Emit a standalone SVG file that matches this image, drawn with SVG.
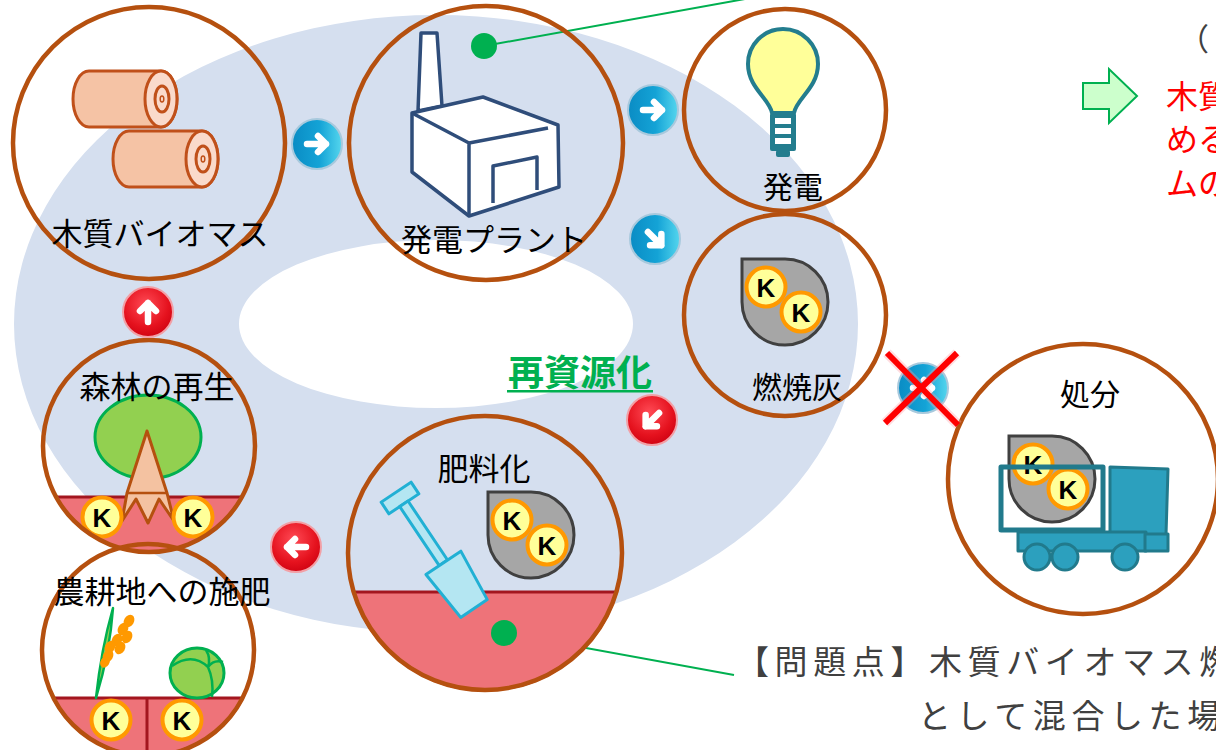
<svg xmlns="http://www.w3.org/2000/svg" width="1216" height="750" viewBox="0 0 1216 750">
  <style>
    .ring { stroke: #B5500F; stroke-width: 4.5; fill: none; }
    .lbl { font-family: "Noto Sans CJK JP", "Noto Sans", sans-serif; font-size: 31px; fill: #000; text-anchor: middle; }
    .lbl30 { font-size: 30px; }
    .k { font-family: "Liberation Sans", Arial, sans-serif; font-weight: bold; font-size: 26px; fill: #000; text-anchor: middle; }
    .ground { fill: #EE7379; stroke: #A3161F; stroke-width: 3; }
    .arw { fill: none; stroke: #FFFFFF; stroke-width: 6.5; stroke-linecap: round; stroke-linejoin: round; }
    .callout { stroke: #00B050; stroke-width: 2; fill: none; }
    .note { font-family: "Noto Sans CJK JP", "Noto Sans", sans-serif; fill: #404040; }
    .red { font-family: "Noto Sans CJK JP", "Noto Sans", sans-serif; font-size: 32px; fill: #FF0000; }
  </style>
  <defs>
    <linearGradient id="gBlue" x1="0" y1="0" x2="1" y2="0">
      <stop offset="0" stop-color="#0A8CC4"/>
      <stop offset="0.55" stop-color="#14A3D6"/>
      <stop offset="1" stop-color="#55D6EE"/>
    </linearGradient>
    <radialGradient id="gRed" cx="0.45" cy="0.35" r="0.7">
      <stop offset="0" stop-color="#FF4A55"/>
      <stop offset="0.65" stop-color="#E5121E"/>
      <stop offset="1" stop-color="#CC0010"/>
    </radialGradient>
    <g id="kBadge">
      <circle r="19.5" fill="#FFFF99" stroke="#FF9900" stroke-width="4"/>
      <text class="k" y="9.5">K</text>
    </g>
    <g id="ash">
      <path d="M0,0 H43 A43,43 0 0 1 43,86 A43,43 0 0 1 0,43 Z" fill="#A6A6A6" stroke="#404040" stroke-width="3"/>
      <use href="#kBadge" x="24" y="28"/>
      <use href="#kBadge" x="59" y="53"/>
    </g>
    <circle id="btnBlue" r="25" fill="url(#gBlue)" stroke="#A8C9DD" stroke-width="2"/>
    <circle id="btnRed" r="25" fill="url(#gRed)" stroke="#F2A0A6" stroke-width="2"/>
    <path id="arrowR" class="arw" d="M-10,0 H9 M1,-8 L9,0 L1,8"/>
  </defs>

  <!-- background loop (donut) -->
  <path d="M14,324 A422,309 0 1 0 858,324 A422,309 0 1 0 14,324 Z M239,324 A197,84 0 1 0 633,324 A197,84 0 1 0 239,324 Z"
        fill="#D5DFEF" fill-rule="evenodd"/>

  <!-- callout connectors -->
  <g id="connectors">
    <line class="callout" x1="484" y1="46" x2="756" y2="-3"/>
    <circle cx="484" cy="46" r="13" fill="#00B050"/>
    <line class="callout" x1="504" y1="633" x2="734" y2="675"/>
  </g>

  <!-- wood biomass -->
  <g id="node-biomass">
    <path d="M89,71 H161 A16,28 0 0 1 161,127 H89 A16,28 0 0 1 89,71 Z" fill="#F5C3A5" stroke="#C0501A" stroke-width="3"/>
    <ellipse cx="161" cy="99" rx="16" ry="28" fill="#FADACB" stroke="#C0501A" stroke-width="3"/>
    <ellipse cx="162" cy="99" rx="7" ry="13" fill="none" stroke="#C0501A" stroke-width="3"/>
    <ellipse cx="162" cy="99" rx="1.8" ry="3" fill="none" stroke="#C0501A" stroke-width="1.5"/>
    <path d="M129,131 H202 A16,28 0 0 1 202,187 H129 A16,28 0 0 1 129,131 Z" fill="#F5C3A5" stroke="#C0501A" stroke-width="3"/>
    <ellipse cx="202" cy="159" rx="16" ry="28" fill="#FADACB" stroke="#C0501A" stroke-width="3"/>
    <ellipse cx="203" cy="159" rx="7" ry="13" fill="none" stroke="#C0501A" stroke-width="3"/>
    <ellipse cx="203" cy="159" rx="1.8" ry="3" fill="none" stroke="#C0501A" stroke-width="1.5"/>
    <circle class="ring" cx="149" cy="143" r="136"/>
    <text class="lbl" x="160" y="245">木質バイオマス</text>
  </g>

  <!-- power plant -->
  <g id="node-plant">
    <g fill="#FFFFFF" stroke="#2F4D7A" stroke-width="3.5" stroke-linejoin="round">
      <polygon points="421,33 437,33 442,106 418,111"/>
      <path d="M412,113 L483,97 L558,125 L559,187 L469,216 L412,172 Z"/>
      <path d="M412,113 L469,143 L469,216 M469,143 L548,128" fill="none"/>
      <path d="M493,203 V166 L537,157 V190" fill="none"/>
    </g>
    <circle class="ring" cx="486" cy="143" r="137"/>
    <text class="lbl" x="494" y="251">発電プラント</text>
  </g>

  <!-- power generation -->
  <g id="node-power">
    <path d="M772,113 C770,99 748,88 748,64 A35,35 0 0 1 818,64 C818,88 796,99 794,113 Z" fill="#FFFF99" stroke="#237D8E" stroke-width="4" stroke-linejoin="round"/>
    <rect x="770" y="113" width="26" height="38" rx="2" fill="#237D8E"/>
    <rect x="775" y="118" width="16" height="6" fill="#FFFFFF"/>
    <rect x="775" y="128" width="16" height="6" fill="#FFFFFF"/>
    <rect x="775" y="138" width="16" height="6" fill="#FFFFFF"/>
    <rect x="776" y="150" width="14" height="7" rx="2" fill="#237D8E"/>
    <circle class="ring" cx="785" cy="110" r="101"/>
    <text class="lbl lbl30" x="793" y="198">発電</text>
  </g>

  <!-- combustion ash -->
  <g id="node-ash">
    <use href="#ash" x="742" y="259"/>
    <circle class="ring" cx="785" cy="315" r="101"/>
    <text class="lbl lbl30" x="797" y="398">燃焼灰</text>
  </g>

  <!-- disposal -->
  <g id="node-disposal">
    <use href="#ash" x="1009" y="436"/>
    <g fill="#2CA0BE" stroke="#217A8C" stroke-width="3" stroke-linejoin="round">
      <rect x="1001" y="467" width="102" height="63" fill="none" stroke-width="5"/>
      <polygon points="1110,467 1168,469 1166,535 1110,535"/>
      <rect x="1018" y="532" width="128" height="19"/>
      <rect x="1145" y="534" width="23" height="17"/>
      <circle cx="1037" cy="557" r="13"/>
      <circle cx="1065" cy="557" r="13"/>
      <circle cx="1125" cy="557" r="13"/>
    </g>
    <rect x="1149" y="538" width="15" height="8" fill="#2CA0BE"/>
    <circle class="ring" cx="1083" cy="479" r="135"/>
    <text class="lbl lbl30" x="1090" y="405">処分</text>
  </g>

  <!-- forest regrowth -->
  <g id="node-forest">
    <path class="ground" d="M56.1,497 H241.9 A106,106 0 0 1 56.1,497 Z"/>
    <ellipse cx="148" cy="437" rx="53" ry="42" fill="#92D050" stroke="#00B050" stroke-width="3"/>
    <path d="M147,431 L127,493 L122,521 L136,499 L148,523 L159,499 L174,521 L167,493 Z" fill="#F4C2A1" stroke="#B5500F" stroke-width="3" stroke-linejoin="round"/>
    <line x1="127" y1="493" x2="167" y2="493" stroke="#B5500F" stroke-width="2.5"/>
    <use href="#kBadge" x="102" y="517"/>
    <use href="#kBadge" x="193" y="517"/>
    <circle class="ring" cx="149" cy="446" r="106"/>
    <text class="lbl" x="157" y="398">森林の再生</text>
  </g>

  <!-- fertilizing farmland -->
  <g id="node-farmland">
    <path class="ground" d="M53.5,698 H242.5 A106,106 0 0 1 53.5,698 Z"/>
    <line x1="147" y1="698" x2="147" y2="756" stroke="#A3161F" stroke-width="3"/>
    <path d="M113,608 Q101,650 96,698 Q110,652 113,608 Z" fill="#92D050" stroke="#00B050" stroke-width="2.5" stroke-linejoin="round"/>
    <g fill="#FF9900">
      <ellipse cx="129" cy="621" rx="5" ry="6.5" transform="rotate(30 129 621)"/>
      <ellipse cx="123" cy="629" rx="5" ry="6.5" transform="rotate(30 123 629)"/>
      <ellipse cx="127" cy="637" rx="5" ry="6.5" transform="rotate(30 127 637)"/>
      <ellipse cx="117" cy="640" rx="5" ry="6.5" transform="rotate(30 117 640)"/>
      <ellipse cx="120" cy="648" rx="5" ry="6.5" transform="rotate(30 120 648)"/>
      <ellipse cx="110" cy="647" rx="5" ry="6.5" transform="rotate(30 110 647)"/>
      <ellipse cx="108" cy="656" rx="5" ry="6.5" transform="rotate(30 108 656)"/>
      <ellipse cx="105" cy="662" rx="4.5" ry="6" transform="rotate(30 105 662)"/>
    </g>
    <ellipse cx="197" cy="673" rx="27" ry="25" fill="#92D050" stroke="#00B050" stroke-width="3"/>
    <path d="M172,666 Q192,652 208,667 Q214,680 212,697 M208,667 Q214,659 223,662 M206,650 Q211,658 208,667" fill="none" stroke="#00B050" stroke-width="2.5"/>
    <use href="#kBadge" x="111" y="720"/>
    <use href="#kBadge" x="182" y="720"/>
    <circle class="ring" cx="148" cy="650" r="106"/>
    <text class="lbl" x="162" y="603">農耕地への施肥</text>
  </g>

  <!-- fertilizer production -->
  <g id="node-fertilizer">
    <path class="ground" d="M353.7,592 H616.3 A137,137 0 0 1 353.7,592 Z"/>
    <circle cx="504" cy="633" r="13" fill="#00B050"/>
    <use href="#ash" x="488" y="492"/>
    <g transform="translate(400,498) rotate(-33.8)" fill="#B4E6F2" stroke="#21B0D4" stroke-width="3" stroke-linejoin="round">
      <rect x="-18" y="-7" width="36" height="14"/>
      <rect x="-5" y="7" width="10" height="71"/>
      <path d="M-21,78 H21 L16,133 H-16 Z"/>
    </g>
    <circle class="ring" cx="485" cy="553" r="137"/>
    <text class="lbl" x="484" y="480">肥料化</text>
  </g>

  <!-- flow buttons -->
  <g id="flow-buttons">
    <g transform="translate(317,144)"><use href="#btnBlue"/><use href="#arrowR"/></g>
    <g transform="translate(653,110)"><use href="#btnBlue"/><use href="#arrowR"/></g>
    <g transform="translate(655,239)"><use href="#btnBlue"/><use href="#arrowR" transform="rotate(45)"/></g>
    <g transform="translate(923,388)"><use href="#btnBlue"/><use href="#arrowR"/></g>
    <g transform="translate(652,420)"><use href="#btnRed"/><use href="#arrowR" transform="rotate(135)"/></g>
    <g transform="translate(296,547)"><use href="#btnRed"/><use href="#arrowR" transform="rotate(180)"/></g>
    <g transform="translate(148,312)"><use href="#btnRed"/><use href="#arrowR" transform="rotate(-90)"/></g>
  </g>

  <!-- blocked route -->
  <g id="blocked">
    <path d="M887,353 L958,425 M957,353 L885,423" stroke="#FF9FA5" stroke-width="10" stroke-opacity="0.35"/>
    <path d="M887,353 L958,425 M957,353 L885,423" stroke="#FF0000" stroke-width="6"/>
  </g>

  <!-- recycling title -->
  <g id="title">
    <text x="580" y="386" font-family="'Noto Sans CJK JP', 'Noto Sans', sans-serif" font-weight="bold" font-size="36" fill="#00B050" text-anchor="middle">再資源化</text>
    <rect x="507" y="390" width="146" height="2.5" fill="#00B050"/>
  </g>

  <!-- side notes -->
  <g id="notes">
    <text class="note" x="1178" y="50" font-size="31">（</text>
    <path d="M1083,83 H1109 V69 L1137,96 L1109,123 V109 H1083 Z" fill="#CCFFCC" stroke="#00B050" stroke-width="2"/>
    <text class="red" x="1166" y="108">木質</text>
    <text class="red" x="1166" y="151">める</text>
    <text class="red" x="1166" y="195">ムの</text>
    <text class="note" x="736" y="674" font-size="33" letter-spacing="5.6">【問題点】木質バイオマス燃</text>
    <text class="note" x="918" y="728" font-size="33" letter-spacing="5.6">として混合した場</text>
  </g>
</svg>
